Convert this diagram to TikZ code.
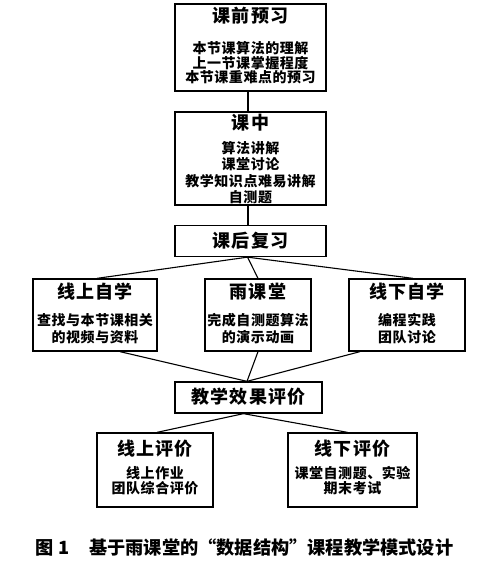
\documentclass[tikz,border=0pt]{standalone}
\usepackage{fontspec}
\newfontfamily\cjk{Noto Sans CJK SC}
\newfontfamily\cjkT[LetterSpace=6]{Noto Sans CJK SC}
\newfontfamily\cjkB[LetterSpace=4]{Noto Sans CJK SC}
\begin{document}
\begin{tikzpicture}[x=1pt,y=-1pt,
  box/.style={draw,line width=1.3pt,inner sep=0pt},
  ttl/.style={inner sep=0pt,font=\cjkT\bfseries\fontsize{18}{20}\selectfont},
  bodytxt/.style={inner sep=0pt,align=center,font=\cjkB\bfseries\fontsize{14}{15.5}\selectfont},
  conn/.style={line width=1.1pt},
  captxt/.style={inner sep=0pt,anchor=west,font=\cjk\bfseries\fontsize{18.2}{20}\selectfont}]
\useasboundingbox (0,0) rectangle (500,569);
% boxes
\node[box,minimum width=151pt,minimum height=87pt] (b1) at (250.5,47.5) {};
\node[box,minimum width=151pt,minimum height=93pt] (b2) at (250.5,158.5) {};
\node[box,minimum width=151pt,minimum height=31pt] (b3) at (250.5,241) {};
\node[box,minimum width=124pt,minimum height=72pt] (b4) at (95,315) {};
\node[box,minimum width=106pt,minimum height=72pt] (b5) at (258,315) {};
\node[box,minimum width=116pt,minimum height=72pt] (b6) at (407,315) {};
\node[box,minimum width=147pt,minimum height=31pt] (e) at (248.5,397.5) {};
\node[box,minimum width=116pt,minimum height=74pt] (e1) at (155,470) {};
\node[box,minimum width=129pt,minimum height=74pt] (e2) at (352.5,470) {};
% texts
\node[ttl] (t1) at (250.5,16) {课前预习};
\node[bodytxt,font=\cjkB\bfseries\fontsize{14}{14.5}\selectfont] (s1) at (250.5,63) {本节课算法的理解\\上一节课掌握程度\\本节课重难点的预习};
\node[ttl] (t2) at (250.5,123) {课中};
\node[bodytxt,font=\cjkB\bfseries\fontsize{14}{16.3}\selectfont] (s2) at (250.5,172.5) {算法讲解\\课堂讨论\\教学知识点难易讲解\\自测题};
\node[ttl] (t3) at (250.5,241) {课后复习};
\node[ttl] (t4) at (95,292) {线上自学};
\node[bodytxt,font=\cjkB\bfseries\fontsize{14}{17}\selectfont] (s4) at (95,328.5) {查找与本节课相关\\的视频与资料};
\node[ttl] (t5) at (258,292) {雨课堂};
\node[bodytxt,font=\cjkB\bfseries\fontsize{14}{17}\selectfont] (s5) at (258,328.5) {完成自测题算法\\的演示动画};
\node[ttl] (t6) at (407,292) {线下自学};
\node[bodytxt,font=\cjkB\bfseries\fontsize{14}{17}\selectfont] (s6) at (407,328.5) {编程实践\\团队讨论};
\node[ttl] (te) at (248.5,397) {教学效果评价};
\node[ttl] (te1) at (155,449) {线上评价};
\node[bodytxt] (se1) at (155,480.5) {线上作业\\团队综合评价};
\node[ttl] (te2) at (352.5,449) {线下评价};
\node[bodytxt] (se2) at (352.5,480.5) {课堂自测题、实验\\期末考试};
% connectors
\draw[conn] ([xshift=-2.5pt]b1.south) -- ([xshift=-2.5pt]b2.north);
\draw[conn] ([xshift=-2.5pt]b2.south) -- ([xshift=-2.5pt]b3.north);
\draw[conn] ([xshift=-3pt]b3.south) -- ([xshift=2pt]b4.north);
\draw[conn] ([xshift=-3pt]b3.south) -- (b5.north);
\draw[conn] ([xshift=-3pt]b3.south) -- ([xshift=6pt]b6.north);
\draw[conn] ([xshift=25pt]b4.south) -- ([xshift=-1.5pt]e.north);
\draw[conn] (b5.south) -- ([xshift=-1.5pt]e.north);
\draw[conn] ([xshift=-47pt]b6.south) -- ([xshift=-1.5pt]e.north);
\draw[conn] ([xshift=-5pt]e.south) -- ([xshift=2pt]e1.north);
\draw[conn] ([xshift=-5pt]e.south) -- ([xshift=-5pt]e2.north);
% caption
\node[captxt] (c1) at (35,548) {图\hspace{5pt}1};
\node[captxt] (c2) at (89,548) {基于雨课堂的“数据结构”课程教学模式设计};
\end{tikzpicture}
\end{document}
